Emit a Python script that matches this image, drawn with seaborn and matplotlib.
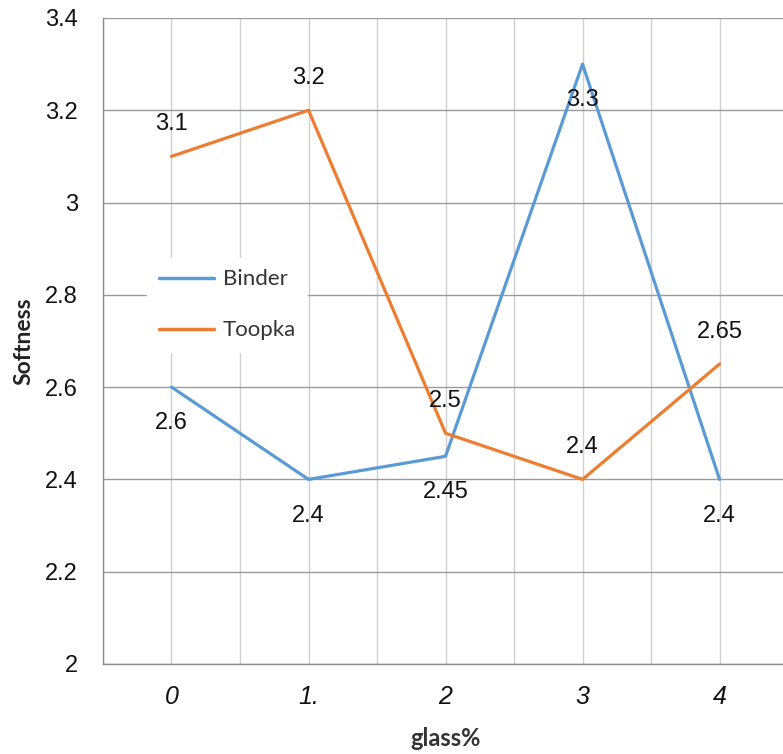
import numpy as np
import pandas as pd
import matplotlib
matplotlib.use("Agg")
import matplotlib.pyplot as plt
import seaborn as sns

categories = ["0", "1.", "2", "3", "4"]
binder = [2.6, 2.4, 2.45, 3.3, 2.4]
toopka = [3.1, 3.2, 2.5, 2.4, 2.65]
binder_labels = ["2.6", "2.4", "2.45", "3.3", "2.4"]
toopka_labels = ["3.1", "3.2", "2.5", "2.4", "2.65"]
y_tick_labels = ["2", "2.2", "2.4", "2.6", "2.8", "3", "3.2", "3.4"]

sns.set_theme(style="white")
plt.rcParams['font.family'] = ['Liberation Sans', 'DejaVu Sans']

x = np.arange(len(categories))
df = pd.DataFrame({
    "glass": np.concatenate([x, x]),
    "Softness": binder + toopka,
    "series": ["Binder"] * len(x) + ["Toopka"] * len(x),
})

fig = plt.figure(figsize=(7.83, 7.54), dpi=100)
ax = fig.add_axes([0.1315, 0.1194, 0.875, 0.8568])

sns.lineplot(data=df, x="glass", y="Softness", hue="series",
             palette={"Binder": "#5B9BD5", "Toopka": "#ED7D31"},
             linewidth=2.3, ax=ax, zorder=3)

ax.set_ylim(2.0, 3.4)
ax.set_xlim(-0.5, 4.5)
ax.set_yticks(np.round(np.arange(2.0, 3.41, 0.2), 1))
ax.set_yticklabels(y_tick_labels, fontsize=17, color="#111111")
ax.set_xticks(x)
ax.set_xticklabels(categories, fontsize=18, style="italic", color="#111111")
ax.set_xticks(np.arange(-0.5, 4.6, 1.0), minor=True)
ax.tick_params(axis="x", which="major", length=0, pad=15)
ax.tick_params(axis="x", which="minor", length=7.5, color="#8c8c8c", width=1)
ax.tick_params(axis="y", which="major", length=6, color="#8c8c8c", width=1, pad=12)

ax.grid(axis="y", which="major", color="#9a9a9a", linewidth=1)
ax.grid(axis="x", which="major", color="#d0d0d0", linewidth=1)
ax.grid(axis="x", which="minor", color="#d0d0d0", linewidth=1)
ax.set_axisbelow(True)

for s in ["top", "right"]:
    ax.spines[s].set_visible(False)
for s in ["left", "bottom"]:
    ax.spines[s].set_color("#8c8c8c")
    ax.spines[s].set_linewidth(1)

ax.set_xlabel("glass%", fontsize=17, fontweight="bold", family="Lato", labelpad=13, color="#333333")
ax.set_ylabel("Softness", fontsize=16.5, fontweight="bold", family="Lato", labelpad=8, color="#222222")

for xi, v, t in zip(x, binder, binder_labels):
    ax.annotate(t, (xi, v), xytext=(0, -26), textcoords="offset points",
                ha="center", va="center", fontsize=17, color="#111111", zorder=5)
for xi, v, t in zip(x, toopka, toopka_labels):
    ax.annotate(t, (xi, v), xytext=(0, 23), textcoords="offset points",
                ha="center", va="center", fontsize=17, color="#111111", zorder=5)

leg = ax.legend(loc="upper left", bbox_to_anchor=(0.065, 0.628), frameon=True,
                fancybox=False, edgecolor="white", framealpha=1,
                prop={"family": "Lato", "size": 16}, handlelength=2.5,
                handletextpad=0.4, labelspacing=1.4, borderpad=0.5,
                borderaxespad=0)
for line in leg.get_lines():
    line.set_linewidth(2.5)
for t in leg.get_texts():
    t.set_color("#333333")

fig.savefig("out.png", dpi=100)
